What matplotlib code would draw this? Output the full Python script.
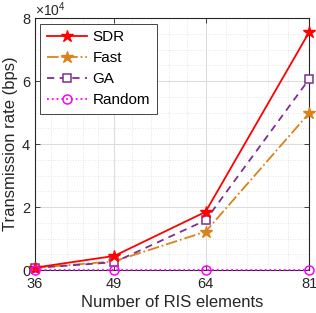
import numpy as np
import matplotlib
matplotlib.use("Agg")
import matplotlib.pyplot as plt

# -------------------------------
# Data
# -------------------------------
ris_elements = [36, 49, 64, 81]
sdr_rate = [800, 4500, 18500, 75500]
fast_rate = [700, 2800, 12200, 49800]
ga_rate = [700, 2500, 15800, 60600]
random_rate = [0, 0, 0, 0]

x_ticks = [36, 49, 64, 81]
y_ticks = [0, 2, 4, 6, 8]

plt.rcParams['font.family'] = ['Liberation Sans', 'DejaVu Sans']
plt.rcParams['mathtext.fontset'] = 'custom'
plt.rcParams['mathtext.rm'] = 'Liberation Sans'

axis_color = '#262626'
scale = 1e4

fig = plt.figure(figsize=(3.16, 3.13), dpi=100)
ax = fig.add_axes([0.111, 0.137, 0.867, 0.805])

ax.plot(ris_elements, np.array(sdr_rate) / scale, color='#FF0000', linestyle='-',
        marker='*', markersize=9, linewidth=1.3, label='SDR', clip_on=False, zorder=5)
ax.plot(ris_elements, np.array(fast_rate) / scale, color='#D9821A', linestyle='-.',
        marker='*', markersize=9, linewidth=1.3, label='Fast', clip_on=False, zorder=4)
ax.plot(ris_elements, np.array(ga_rate) / scale, color='#7E2F8E', linestyle=(0, (4, 3)),
        marker='s', markersize=6, markerfacecolor='white', markeredgewidth=1.1,
        linewidth=1.3, label='GA', clip_on=False, zorder=4)
ax.plot(ris_elements, np.array(random_rate) / scale, color='#FF00FF', linestyle=':',
        marker='o', markersize=6.5, markerfacecolor='none', markeredgewidth=1.1,
        linewidth=1.3, label='Random', clip_on=False, zorder=6)

ax.set_xlim(36, 81)
ax.set_ylim(0, 8)
ax.set_xticks(x_ticks)
ax.set_yticks(y_ticks)

# minor ticks: 5 divisions per major x interval, 0.5 steps on y
minor_x = []
for a, b in zip(x_ticks[:-1], x_ticks[1:]):
    minor_x += list(np.linspace(a, b, 6)[1:-1])
ax.set_xticks(minor_x, minor=True)
ax.set_yticks(np.arange(0, 8.01, 0.5), minor=True)

ax.grid(which='major', color='#DCDCDC', linewidth=0.8, linestyle='-')
ax.grid(which='minor', color='#DCDCDC', linewidth=0.6, linestyle=(0, (1, 2)))
ax.set_axisbelow(True)

ax.tick_params(which='both', direction='in', top=True, right=True,
               colors=axis_color, labelsize=10.5)
ax.tick_params(which='major', length=3.5, width=0.6)
ax.tick_params(axis='x', which='major', pad=5)
ax.tick_params(which='minor', length=0)
for side in ax.spines.values():
    side.set_color(axis_color)
    side.set_linewidth(0.8)

ax.set_xlabel('Number of RIS elements', fontsize=12, color=axis_color, labelpad=3)
ax.set_ylabel('Transmission rate (bps)', fontsize=12, color=axis_color, labelpad=3)
ax.text(0.0, 0.998, r'$\times10^{4}$', transform=ax.transAxes, fontsize=10,
        color=axis_color, ha='left', va='bottom')

leg = ax.legend(loc='upper left', fontsize=11, handlelength=2.6, handletextpad=0.35,
                borderpad=0.45, labelspacing=0.45, fancybox=False, framealpha=1,
                edgecolor=axis_color, borderaxespad=0.35)
leg.get_frame().set_linewidth(0.6)

plt.savefig("out.png", dpi=100)
plt.close()
